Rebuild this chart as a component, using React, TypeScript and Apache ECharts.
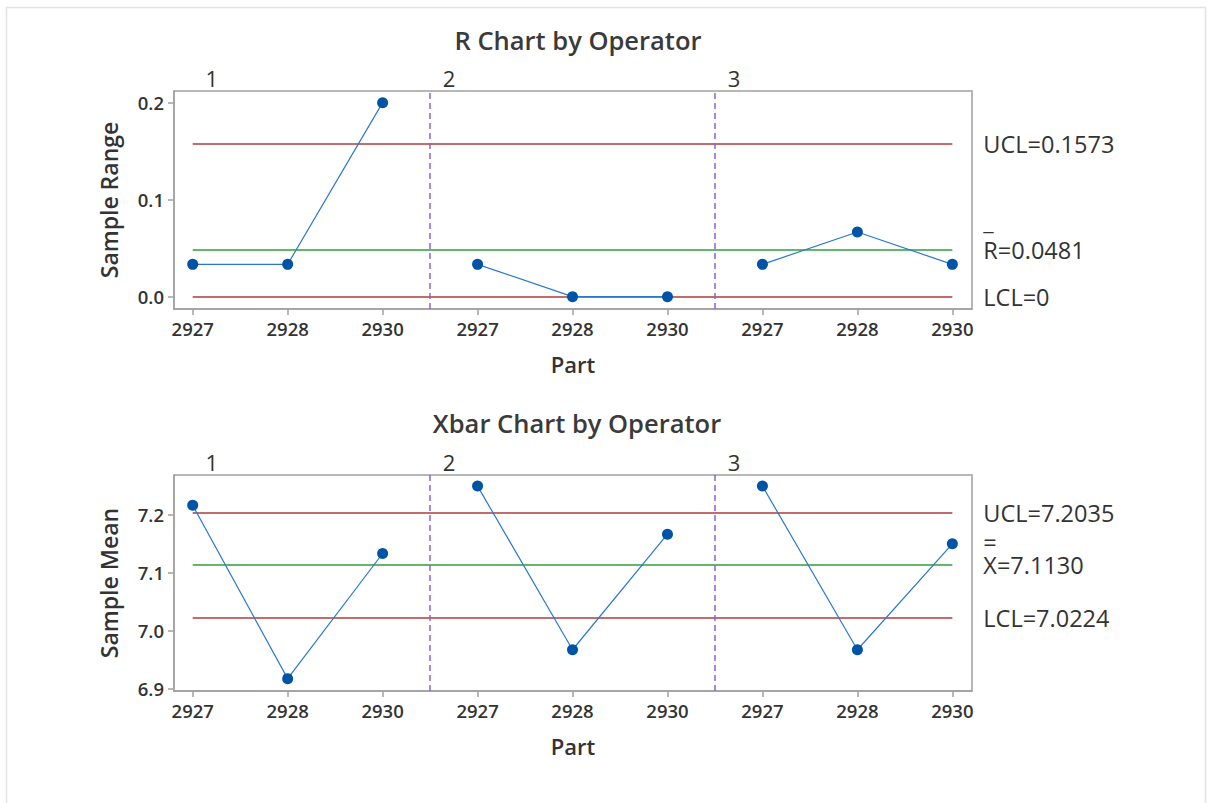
import React, { useEffect, useRef } from "react";
import * as echarts from "echarts";

const parts = ["2927", "2928", "2930", "2927", "2928", "2930", "2927", "2928", "2930"];
const operators = ["1", "2", "3"];
const rangeValues = [0.0333, 0.0333, 0.2, 0.0333, 0, 0, 0.0333, 0.0667, 0.0333];
const meanValues = [7.2167, 6.9167, 7.1333, 7.25, 6.9667, 7.1667, 7.25, 6.9667, 7.15];
const rUCL = 0.1573;
const rCenter = 0.0481;
const rLCL = 0;
const xUCL = 7.2035;
const xCenter = 7.113;
const xLCL = 7.0224;
const rTicks = [0, 0.1, 0.2];
const xTicks = [6.9, 7.0, 7.1, 7.2];

const FONT = "'Open Sans', 'Noto Sans', sans-serif";
const TEXT = "#333333";
const AXIS = "#a0a0a0";
const BLUE = "#0054a6";
const LINEBLUE = "#2a78d0";
const RED = "#b03a3a";
const GREEN = "#2e9e3e";
const PURPLE = "#8a63d8";

const perGroup = 3;
const xMin = -0.197;
const xMax = 8.207;
const partIdx = parts.map((_, i) => i);
const opPos = operators.map((_, g) => (g === 0 ? 0 : g * perGroup - 0.5) + 0.2);
const dividers = operators.slice(1).map((_, g) => (g + 1) * perGroup - 0.5);

function groupSeries(values: number[], gridIdx: number, extra: any) {
  return operators.map((_, g) => {
    const data = values
      .slice(g * perGroup, g * perGroup + perGroup)
      .map((v, i) => [g * perGroup + i, v]);
    const s: any = {
      type: "line",
      xAxisIndex: gridIdx,
      yAxisIndex: gridIdx,
      data,
      symbol: "circle",
      symbolSize: 11,
      itemStyle: { color: BLUE },
      lineStyle: { color: LINEBLUE, width: 1.2 },
      silent: true,
      z: 5,
    };
    if (g === 0) s.markLine = extra;
    return s;
  });
}

const LABEL_SIZE = 23.5;

function limitLine(y: number, color: string, formatter: string, rich?: any) {
  return [
    {
      coord: [0, y],
      lineStyle: { color, width: 1.5, type: "solid" },
      label: {
        show: true,
        position: "end",
        distance: 31,
        formatter,
        color: TEXT,
        fontFamily: FONT,
        fontSize: LABEL_SIZE,
        rich,
      },
    },
    { coord: [partIdx[partIdx.length - 1], y] },
  ];
}

const richBar = {
  b: { fontSize: LABEL_SIZE, lineHeight: 34, fontFamily: FONT, color: TEXT },
  t: { fontSize: LABEL_SIZE, lineHeight: 24, fontFamily: FONT, color: TEXT },
};
const richEq = {
  b: { fontSize: LABEL_SIZE, lineHeight: 25, fontFamily: FONT, color: TEXT },
  t: { fontSize: LABEL_SIZE, lineHeight: 22, fontFamily: FONT, color: TEXT },
};

function markLines(ucl: number, center: number, lcl: number, centerLabel: string, rich: any) {
  return {
    symbol: ["none", "none"],
    silent: true,
    animation: false,
    data: [
      limitLine(ucl, RED, "UCL=" + ucl.toFixed(4)),
      limitLine(center, GREEN, centerLabel, rich),
      limitLine(lcl, RED, "LCL=" + (lcl === 0 ? "0" : lcl.toFixed(4))),
      ...dividers.map((d) => ({
        xAxis: d,
        lineStyle: { color: PURPLE, width: 1.5, type: [6, 4] },
        label: { show: false },
      })),
    ],
  };
}

function bottomX(gridIndex: number) {
  return {
    type: "value",
    gridIndex,
    position: "bottom",
    min: xMin,
    max: xMax,
    axisLine: { show: true, onZero: false, lineStyle: { color: AXIS, width: 1.5 } },
    axisTick: { show: true, length: 6, customValues: partIdx, lineStyle: { color: AXIS, width: 1.5 } },
    axisLabel: {
      customValues: partIdx,
      formatter: (v: number) => parts[Math.round(v)] ?? "",
      color: TEXT,
      fontFamily: FONT,
      fontSize: 18.5,
      fontWeight: 600,
      margin: 10,
    },
    splitLine: { show: false },
    name: "Part",
    nameLocation: "middle",
    nameGap: 44,
    nameTextStyle: { color: TEXT, fontFamily: FONT, fontSize: 22, fontWeight: 600 },
  };
}

function topX(gridIndex: number) {
  return {
    type: "value",
    gridIndex,
    position: "top",
    min: xMin,
    max: xMax,
    axisLine: { show: false, onZero: false },
    axisTick: { show: false },
    axisLabel: {
      customValues: opPos,
      formatter: (v: number) => {
        const i = opPos.findIndex((p) => Math.abs(p - v) < 1e-6);
        return i >= 0 ? operators[i] : "";
      },
      color: TEXT,
      fontFamily: FONT,
      fontSize: 22,
      margin: 2,
    },
    splitLine: { show: false },
  };
}

function yAxis(gridIndex: number, min: number, max: number, ticks: number[], name: string) {
  return {
    type: "value",
    gridIndex,
    position: "left",
    min,
    max,
    axisLine: { show: true, onZero: false, lineStyle: { color: AXIS, width: 1.5 } },
    axisTick: { show: true, length: 6, customValues: ticks, lineStyle: { color: AXIS, width: 1.5 } },
    axisLabel: {
      customValues: ticks,
      formatter: (v: number) => v.toFixed(1),
      color: TEXT,
      fontFamily: FONT,
      fontSize: 18.5,
      fontWeight: 600,
      margin: 10,
    },
    splitLine: { show: false },
    name,
    nameLocation: "middle",
    nameGap: 54,
    nameTextStyle: { color: TEXT, fontFamily: FONT, fontSize: 23, fontWeight: 600 },
  };
}

export default function App() {
  const ref = useRef<HTMLDivElement>(null);
  useEffect(() => {
    if (!ref.current) return;
    const chart = echarts.init(ref.current, undefined, { renderer: "svg" });
    const option: any = {
      animation: false,
      backgroundColor: "#ffffff",
      title: [
        {
          text: "R Chart by Operator",
          left: 573,
          top: 22,
          textAlign: "center",
          textStyle: { color: "#3a3a3a", fontFamily: FONT, fontSize: 25.5, fontWeight: 600 },
        },
        {
          text: "Xbar Chart by Operator",
          left: 572,
          top: 405,
          textAlign: "center",
          textStyle: { color: "#3a3a3a", fontFamily: FONT, fontSize: 25.5, fontWeight: 600 },
        },
      ],
      grid: [
        { left: 174, top: 91, width: 798, height: 218, show: true, borderColor: AXIS, borderWidth: 1.5, backgroundColor: "transparent" },
        { left: 174, top: 475, width: 798, height: 216, show: true, borderColor: AXIS, borderWidth: 1.5, backgroundColor: "transparent" },
      ],
      xAxis: [bottomX(0), bottomX(1), topX(0), topX(1)],
      yAxis: [
        yAxis(0, -0.0127, 0.212, rTicks, "Sample Range"),
        yAxis(1, 6.8953, 7.2692, xTicks, "Sample Mean"),
      ],
      graphic: [
        {
          type: "rect",
          shape: { x: 6.5, y: 7.5, width: 1199, height: 820 },
          style: { fill: "none", stroke: "#e2e2e2", lineWidth: 1.5 },
          silent: true,
        },
      ],
      series: [
        ...groupSeries(rangeValues, 0, markLines(rUCL, rCenter, rLCL, "{b|_}\n{t|R=" + rCenter.toFixed(4) + "}\n{b| }", richBar)),
        ...groupSeries(meanValues, 1, markLines(xUCL, xCenter, xLCL, "{b|=}\n{t|X=" + xCenter.toFixed(4) + "}\n{b| }", richEq)),
      ],
    };
    chart.setOption(option);
    return () => chart.dispose();
  }, []);
  return (
    <div
      ref={ref}
      style={{ position: "absolute", left: 0, top: 0, width: 1209, height: 803 }}
    />
  );
}
